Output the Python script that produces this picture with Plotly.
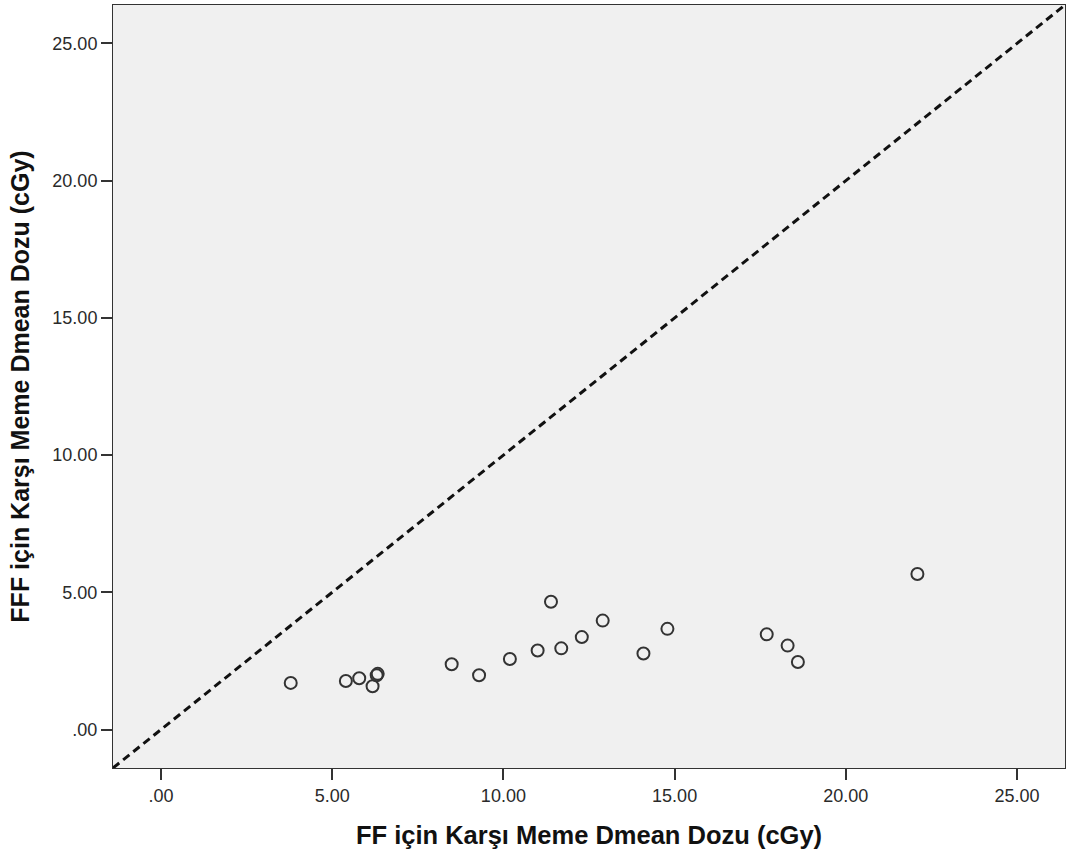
import plotly.graph_objects as go

# Mean contralateral breast dose (cGy): FF plan vs FFF plan, one point per patient
ff_dose = [3.79, 5.40, 5.79, 6.18, 6.30, 6.33, 8.49, 9.29, 10.19, 11.00,
           11.39, 11.69, 12.29, 12.90, 14.09, 14.79, 17.69, 18.30, 18.60, 22.09]
fff_dose = [1.70, 1.77, 1.87, 1.58, 1.98, 2.03, 2.38, 1.98, 2.57, 2.88,
            4.66, 2.96, 3.37, 3.97, 2.77, 3.67, 3.47, 3.06, 2.46, 5.67]

tick_vals = [0, 5, 10, 15, 20, 25]
tick_text = [".00", "5.00", "10.00", "15.00", "20.00", "25.00"]
axis_range = [-1.4, 26.4]

x_title = "FF için Karşı Meme Dmean Dozu (cGy)"
y_title = "FFF için Karşı Meme Dmean Dozu (cGy)"

font_family = "Liberation Sans, Arial, sans-serif"

fig = go.Figure()

# Line of identity (y = x) across the whole plotting range
fig.add_trace(go.Scatter(
    x=axis_range, y=axis_range, mode="lines",
    line=dict(color="#111111", width=3, dash="8px,5px"),
    hoverinfo="skip", showlegend=False,
))

fig.add_trace(go.Scatter(
    x=ff_dose, y=fff_dose, mode="markers",
    marker=dict(symbol="circle-open", size=12, color="#333333",
                line=dict(width=2, color="#333333")),
    showlegend=False,
))

axis_common = dict(
    range=axis_range,
    tickmode="array", tickvals=tick_vals, ticktext=tick_text,
    ticks="outside", ticklen=11, tickwidth=2, tickcolor="#333333",
    showline=True, mirror=True, linecolor="#333333", linewidth=1,
    showgrid=False, zeroline=False,
    tickfont=dict(family=font_family, size=18, color="#2a2a2a"),
)

fig.update_xaxes(**axis_common,
                 title=dict(text=x_title, standoff=21,
                            font=dict(family=font_family, size=25.5, color="#111111",
                                      weight="bold")))
fig.update_yaxes(**axis_common,
                 title=dict(text=y_title, standoff=15,
                            font=dict(family=font_family, size=25, color="#111111",
                                      weight="bold")))

fig.update_layout(
    width=1080, height=855,
    margin=dict(l=113, r=15, t=5, b=87, autoexpand=False),
    plot_bgcolor="#f0f0f0",
    paper_bgcolor="#ffffff",
    font=dict(family=font_family),
)

fig.write_html("out.html")
